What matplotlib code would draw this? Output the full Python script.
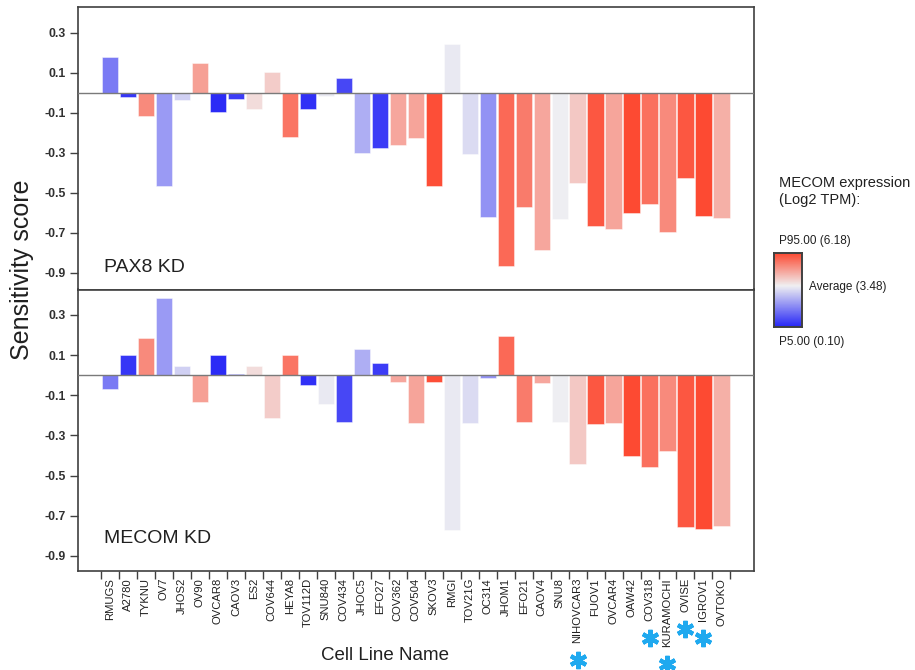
import matplotlib
matplotlib.use("Agg")
import matplotlib.pyplot as plt
import numpy as np
from matplotlib.colors import LinearSegmentedColormap, TwoSlopeNorm
from matplotlib.transforms import blended_transform_factory

plt.rcParams['font.family'] = ['Liberation Sans', 'DejaVu Sans']

cell_lines = ["RMUGS", "A2780", "TYKNU", "OV7", "JHOS2", "OV90", "OVCAR8", "CAOV3",
              "ES2", "COV644", "HEYA8", "TOV112D", "SNU840", "COV434", "JHOC5", "EFO27",
              "COV362", "COV504", "SKOV3", "RMGI", "TOV21G", "OC314", "JHOM1", "EFO21",
              "CAOV4", "SNU8", "NIHOVCAR3", "FUOV1", "OVCAR4", "OAW42", "COV318",
              "KURAMOCHI", "OVISE", "IGROV1", "OVTOKO"]

pax8_kd = [0.18, -0.02, -0.115, -0.465, -0.037, 0.147, -0.098, -0.03,
           -0.083, 0.103, -0.223, -0.083, -0.015, 0.072, -0.303, -0.278,
           -0.26, -0.228, -0.465, 0.242, -0.305, -0.62, -0.868, -0.572,
           -0.788, -0.633, -0.45, -0.668, -0.68, -0.60, -0.557,
           -0.697, -0.425, -0.615, -0.625]

mecom_kd = [-0.068, 0.10, 0.185, 0.383, 0.045, -0.135, 0.10, 0.008,
            0.045, -0.213, 0.10, -0.05, -0.142, -0.232, 0.13, 0.063,
            -0.033, -0.238, -0.033, -0.77, -0.237, -0.013, 0.197, -0.232,
            -0.038, -0.232, -0.443, -0.242, -0.237, -0.402, -0.455,
            -0.375, -0.757, -0.765, -0.75]

mecom_expr = [1.50, 0.38, 5.14, 2.05, 2.95, 4.77, 0.18, 0.48,
              3.80, 4.07, 5.48, 0.28, 3.35, 0.66, 2.38, 0.48,
              4.68, 4.72, 6.11, 3.35, 3.12, 1.91, 5.66, 5.37,
              4.68, 3.45, 4.13, 5.95, 4.70, 6.16, 5.56,
              5.14, 5.95, 6.16, 4.52]

starred = ["NIHOVCAR3", "COV318", "KURAMOCHI", "OVISE", "IGROV1"]

panel_names = ["PAX8 KD", "MECOM KD"]
yticks = [0.3, 0.1, -0.1, -0.3, -0.5, -0.7, -0.9]
ytick_labels = ["0.3", "0.1", "-0.1", "-0.3", "-0.5", "-0.7", "-0.9"]

expr_low, expr_avg, expr_high = 0.10, 3.48, 6.18

cmap = LinearSegmentedColormap.from_list("mecom", ["#2626f6", "#f0f0f2", "#fd4a32"])
norm = TwoSlopeNorm(vmin=expr_low, vcenter=expr_avg, vmax=expr_high)
colors = [cmap(norm(v)) for v in mecom_expr]

W, H = 915, 670
fig = plt.figure(figsize=(W / 100, H / 100), dpi=100)

left = 78 / W
width = (754 - 78) / W
ax1 = fig.add_axes([left, 1 - 290 / H, width, (290 - 7.3) / H])
ax2 = fig.add_axes([left, 1 - 571 / H, width, (571 - 289.5) / H])

x = np.arange(len(cell_lines))
spine_col = "#404040"

for ax, vals, name, ylim, lab_y in [(ax1, pax8_kd, panel_names[0], (-0.987, 0.427), 0.081),
                                    (ax2, mecom_kd, panel_names[1], (-0.975, 0.427), 0.114)]:
    ax.bar(x, vals, width=0.9, color=colors, edgecolor=(1, 1, 1, 0.5), linewidth=0.6, zorder=2)
    ax.axhline(0, color="#7a7a7a", lw=1.0, zorder=3)
    ax.set_xlim(-1.78, 35.81)
    ax.set_ylim(*ylim)
    ax.set_yticks(yticks)
    ax.set_yticklabels(ytick_labels, fontsize=8.8, fontweight="bold", color="#303030")
    ax.tick_params(axis="y", direction="out", length=6, width=1, color=spine_col, pad=2.5)
    for s in ax.spines.values():
        s.set_color(spine_col)
        s.set_linewidth(1.2)
    ax.text(0.0385, lab_y, name, transform=ax.transAxes, fontsize=14,
            ha="left", va="center", color="#202020")

ax1.set_xticks([])
ax2.set_xticks(np.arange(len(cell_lines) + 1) - 0.5)
ax2.set_xticklabels([])
ax2.tick_params(axis="x", which="major", direction="out", length=6, width=1, color=spine_col)
ax2.set_xticks(x, minor=True)
ax2.set_xticklabels(cell_lines, minor=True, rotation=90, fontsize=8.1, color="#202020")
ax2.tick_params(axis="x", which="minor", length=0, pad=5)

fig.text(0.024, 1 - 269.5 / H, "Sensitivity score", rotation=90, fontsize=18,
         ha="center", va="center", color="#202020")
fig.text(385 / W, 1 - 655 / H, "Cell Line Name", fontsize=13.5,
         ha="center", va="center", color="#202020")

# legend
fig.text(779 / W, 1 - 176 / H, "MECOM expression\n(Log2 TPM):", fontsize=10.5,
         ha="left", va="top", color="#202020", linespacing=1.25)
fig.text(779 / W, 1 - 241 / H, f"P95.00 ({expr_high:.2f})", fontsize=8.5,
         ha="left", va="center", color="#202020")
fig.text(809 / W, 1 - 287 / H, f"Average ({expr_avg:.2f})", fontsize=8.5,
         ha="left", va="center", color="#202020")
fig.text(779 / W, 1 - 342.5 / H, f"P5.00 ({expr_low:.2f})", fontsize=8.5,
         ha="left", va="center", color="#202020")
cax = fig.add_axes([774 / W, 1 - 327.3 / H, 27.7 / W, 74 / H])
grad = np.linspace(expr_low, expr_high, 256).reshape(-1, 1)
cax.imshow(grad, aspect="auto", cmap=cmap, norm=norm, origin="lower")
cax.set_xticks([])
cax.set_yticks([])
for s in cax.spines.values():
    s.set_color("#404040")
    s.set_linewidth(1.4)

# asterisks under selected labels
fig.canvas.draw()
renderer = fig.canvas.get_renderer()
trans = blended_transform_factory(ax2.transData, fig.transFigure)
labels = ax2.get_xticklabels(minor=True)
for lbl in labels:
    name = lbl.get_text()
    if name in starred:
        bb = lbl.get_window_extent(renderer)
        yf = (bb.y0 - 17) / fig.bbox.height
        ax2.plot([cell_lines.index(name)], [yf], transform=trans, clip_on=False,
                 marker=(6, 2, 0), ms=12.5, mew=3.0, color="#1fa9ef", ls="none")

fig.savefig("out.png", dpi=100)
